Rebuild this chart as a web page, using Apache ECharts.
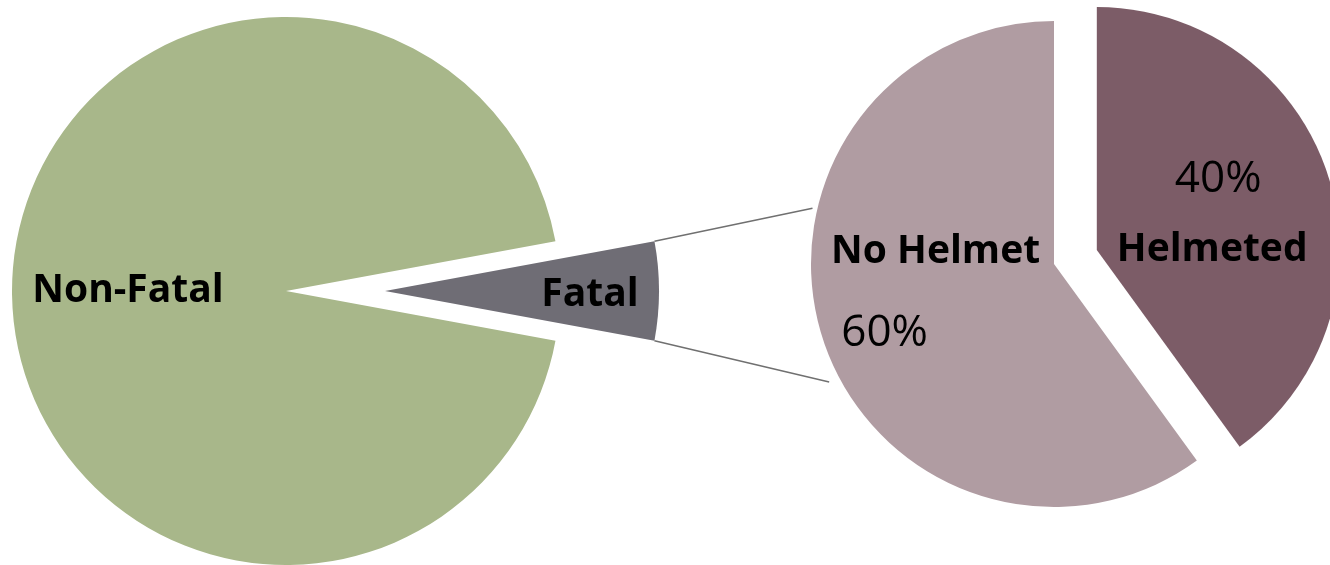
<!DOCTYPE html>
<html>
<head>
<meta charset="utf-8">
<script src="https://cdn.jsdelivr.net/npm/echarts@6/dist/echarts.min.js"></script>
<style>
  html, body { margin: 0; padding: 0; background: #ffffff; }
  #chart { width: 1330px; height: 565px; }
</style>
</head>
<body>
<div id="chart"></div>
<script>
// Crash outcomes (left pie) and helmet use among fatal crashes (right pie)
const outcomeNames = ['Fatal', 'Non-Fatal'];
const outcomeValues = [5.8, 94.2];
const helmetNames = ['Helmeted', 'No Helmet'];
const helmetValues = [40, 60];

const FONT = '"Open Sans", Lato, sans-serif';
const outcomeColors = ['#6f6d75', '#a8b78a'];
const helmetColors = ['#7c5c67', '#b09ca2'];

const nameStyle = { fontFamily: FONT, fontWeight: 'bold', fontSize: 39, color: '#000' };
const pctStyle = { fontFamily: FONT, fontWeight: 'normal', fontSize: 44, color: '#000' };

// per-slice label tweaks (padding nudges the text away from the default inside anchor)
const outcomeLabels = {
  'Fatal': { formatter: '{n|{b}}', rich: { n: Object.assign({ padding: [8, 0, 0, 130] }, nameStyle) } },
  'Non-Fatal': { formatter: '{n|{b}}', rich: { n: Object.assign({ padding: [0, 36, 0, 0] }, nameStyle) } }
};
const helmetLabels = {
  'Helmeted': {
    formatter: '{p|{d}%}\n{n|{b}}',
    padding: [6, 0, 0, 0],
    rich: {
      p: Object.assign({ padding: [0, 0, 0, 6], lineHeight: 70 }, pctStyle),
      n: Object.assign({ padding: [0, 6, 0, 0], lineHeight: 70 }, nameStyle)
    }
  },
  'No Helmet': {
    formatter: '{n|{b}}\n{p|{d}%}',
    padding: [0, 0, 20, 0],
    rich: {
      n: Object.assign({ lineHeight: 82 }, nameStyle),
      p: Object.assign({ padding: [0, 102, 0, 0], lineHeight: 82 }, pctStyle)
    }
  }
};

const chart = echarts.init(document.getElementById('chart'), null, { renderer: 'canvas' });

const outcomeData = outcomeNames.map((name, i) => ({
  name, value: outcomeValues[i], selected: name === 'Fatal',
  itemStyle: { color: outcomeColors[i] },
  label: Object.assign({ show: true, position: 'inside' }, outcomeLabels[name])
}));
const helmetData = helmetNames.map((name, i) => ({
  name, value: helmetValues[i], selected: name === 'Helmeted',
  itemStyle: { color: helmetColors[i] },
  label: Object.assign({ show: true, position: 'inside' }, helmetLabels[name])
}));

// Fatal slice angle is centred on 3 o'clock
const fatalShare = outcomeValues[0] / outcomeValues.reduce((a, b) => a + b, 0);
const leftStart = fatalShare * 180;

chart.setOption({
  animation: false,
  backgroundColor: '#ffffff',
  series: [
    {
      type: 'pie', id: 'outcome',
      center: [286, 291], radius: [0, 274],
      startAngle: leftStart, clockwise: true,
      selectedMode: 'single', selectedOffset: 99,
      avoidLabelOverlap: false,
      labelLine: { show: false },
      emphasis: { disabled: true },
      select: { itemStyle: {} },
      data: outcomeData
    },
    {
      type: 'pie', id: 'helmet',
      center: [1054, 264], radius: [0, 243],
      startAngle: 90, clockwise: true,
      selectedMode: 'single', selectedOffset: 45,
      avoidLabelOverlap: false,
      labelLine: { show: false },
      emphasis: { disabled: true },
      select: { itemStyle: {} },
      data: helmetData
    }
  ]
});

// Connector lines from the exploded Fatal slice to the helmet breakdown pie
function drawConnectors() {
  const model = chart.getModel();
  const left = model.getSeriesByIndex(0);
  const right = model.getSeriesByIndex(1);
  const lay = left.getData().getItemLayout(0);
  const mid = (lay.startAngle + lay.endAngle) / 2;
  const off = left.get('selectedOffset');
  const ox = lay.cx + Math.cos(mid) * off;
  const oy = lay.cy + Math.sin(mid) * off;
  const rl = right.getData().getItemLayout(0);
  const angTop = Math.min(lay.startAngle, lay.endAngle);
  const angBot = Math.max(lay.startAngle, lay.endAngle);
  const a = [ox + lay.r * Math.cos(angTop), oy + lay.r * Math.sin(angTop)];
  const b = [ox + lay.r * Math.cos(angBot), oy + lay.r * Math.sin(angBot)];
  const deg = Math.PI / 180;
  const c = [rl.cx + rl.r * 1.02 * Math.cos(193 * deg), rl.cy + rl.r * 1.02 * Math.sin(193 * deg)];
  const d = [rl.cx + rl.r * 1.045 * Math.cos(152.3 * deg), rl.cy + rl.r * 1.045 * Math.sin(152.3 * deg)];
  const lineStyle = { stroke: '#707070', lineWidth: 1.5 };
  chart.setOption({
    graphic: [
      { type: 'line', z: 10, shape: { x1: a[0], y1: a[1], x2: c[0], y2: c[1] }, style: lineStyle, silent: true },
      { type: 'line', z: 10, shape: { x1: b[0], y1: b[1], x2: d[0], y2: d[1] }, style: lineStyle, silent: true }
    ]
  });
}
drawConnectors();
</script>
</body>
</html>
